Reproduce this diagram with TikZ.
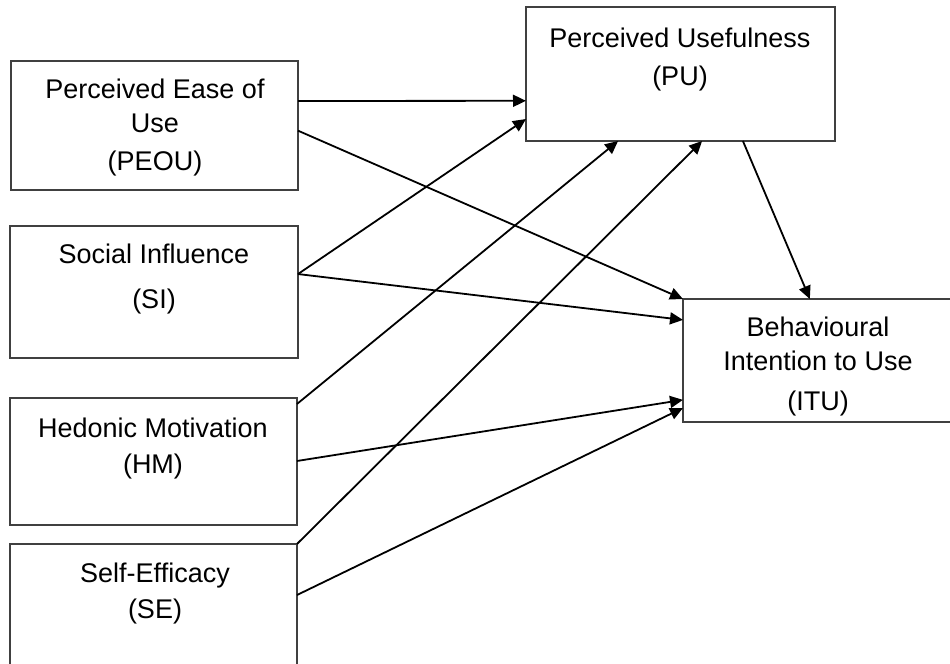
\documentclass[tikz,border=0pt]{standalone}
\usepackage{fontspec}
\setmainfont{Liberation Sans}
\usetikzlibrary{arrows.meta,calc}
\begin{document}
\begin{tikzpicture}[x=0.5pt,y=-0.5pt,
  box/.style={draw=black!75, line width=0.8pt, inner sep=0pt, outer sep=0pt},
  lbl/.style={anchor=base, inner sep=0pt, font=\fontsize{13.5pt}{16pt}\selectfont},
  arr/.style={line width=0.9pt, -{Triangle[length=6.5pt,width=6pt]}}]
\path[use as bounding box] (0,0) rectangle (950,664);
\begin{scope}
\clip (0,0) rectangle (950,664);
% boxes
\node[box, minimum width=143.5pt, minimum height=64.5pt] (peou) at (154.5,125.5) {};
\node[box, minimum width=144pt, minimum height=66pt] (si) at (154,292) {};
\node[box, minimum width=143.5pt, minimum height=63.5pt] (hm) at (153.5,461.5) {};
\node[box, minimum width=143.5pt, minimum height=78pt] (se) at (153.5,622) {};
\node[box, minimum width=154.5pt, minimum height=67pt] (pu) at (680.5,74) {};
\node[box, minimum width=143.5pt, minimum height=61.5pt] (itu) at (826.5,360.5) {};
% labels
\node[lbl] (peou1) at (155,98) {Perceived Ease of};
\node[lbl] (peou2) at (155,133) {Use};
\node[lbl] (peou3) at (155,170) {(PEOU)};
\node[lbl] (si1) at (154,263) {Social Influence};
\node[lbl] (si2) at (154,308) {(SI)};
\node[lbl] (hm1) at (153,437) {Hedonic Motivation};
\node[lbl] (hm2) at (153,473) {(HM)};
\node[lbl] (se1) at (155,582) {Self-Efficacy};
\node[lbl] (se2) at (155,618) {(SE)};
\node[lbl] (pu1) at (680,47) {Perceived Usefulness};
\node[lbl] (pu2) at (680,85) {(PU)};
\node[lbl] (itu1) at (818,336) {Behavioural};
\node[lbl] (itu2) at (818,370) {Intention to Use};
\node[lbl] (itu3) at (818,410) {(ITU)};
% connectors
\draw[arr] ($(peou.north east)!0.31!(peou.south east)$) -- ($(pu.north west)!0.70!(pu.south west)$);
\draw[arr] ($(peou.north east)!0.54!(peou.south east)$) -- (itu.north west);
\draw[arr] ($(si.north east)!0.364!(si.south east)$) -- ($(pu.north west)!0.836!(pu.south west)$);
\draw[arr] ($(si.north east)!0.364!(si.south east)$) -- ($(itu.north west)!0.17!(itu.south west)$);
\draw[arr] ($(hm.north east)!0.047!(hm.south east)$) -- ($(pu.south west)!0.298!(pu.south east)$);
\draw[arr] ($(hm.north east)!0.496!(hm.south east)$) -- ($(itu.north west)!0.82!(itu.south west)$);
\draw[arr] (se.north east) -- ($(pu.south west)!0.57!(pu.south east)$);
\draw[arr] ($(se.north east)!0.327!(se.south east)$) -- ($(itu.north west)!0.886!(itu.south west)$);
\draw[arr] ($(pu.south west)!0.702!(pu.south east)$) -- ($(itu.north west)!0.442!(itu.north east)$);
\end{scope}
\end{tikzpicture}
\end{document}
